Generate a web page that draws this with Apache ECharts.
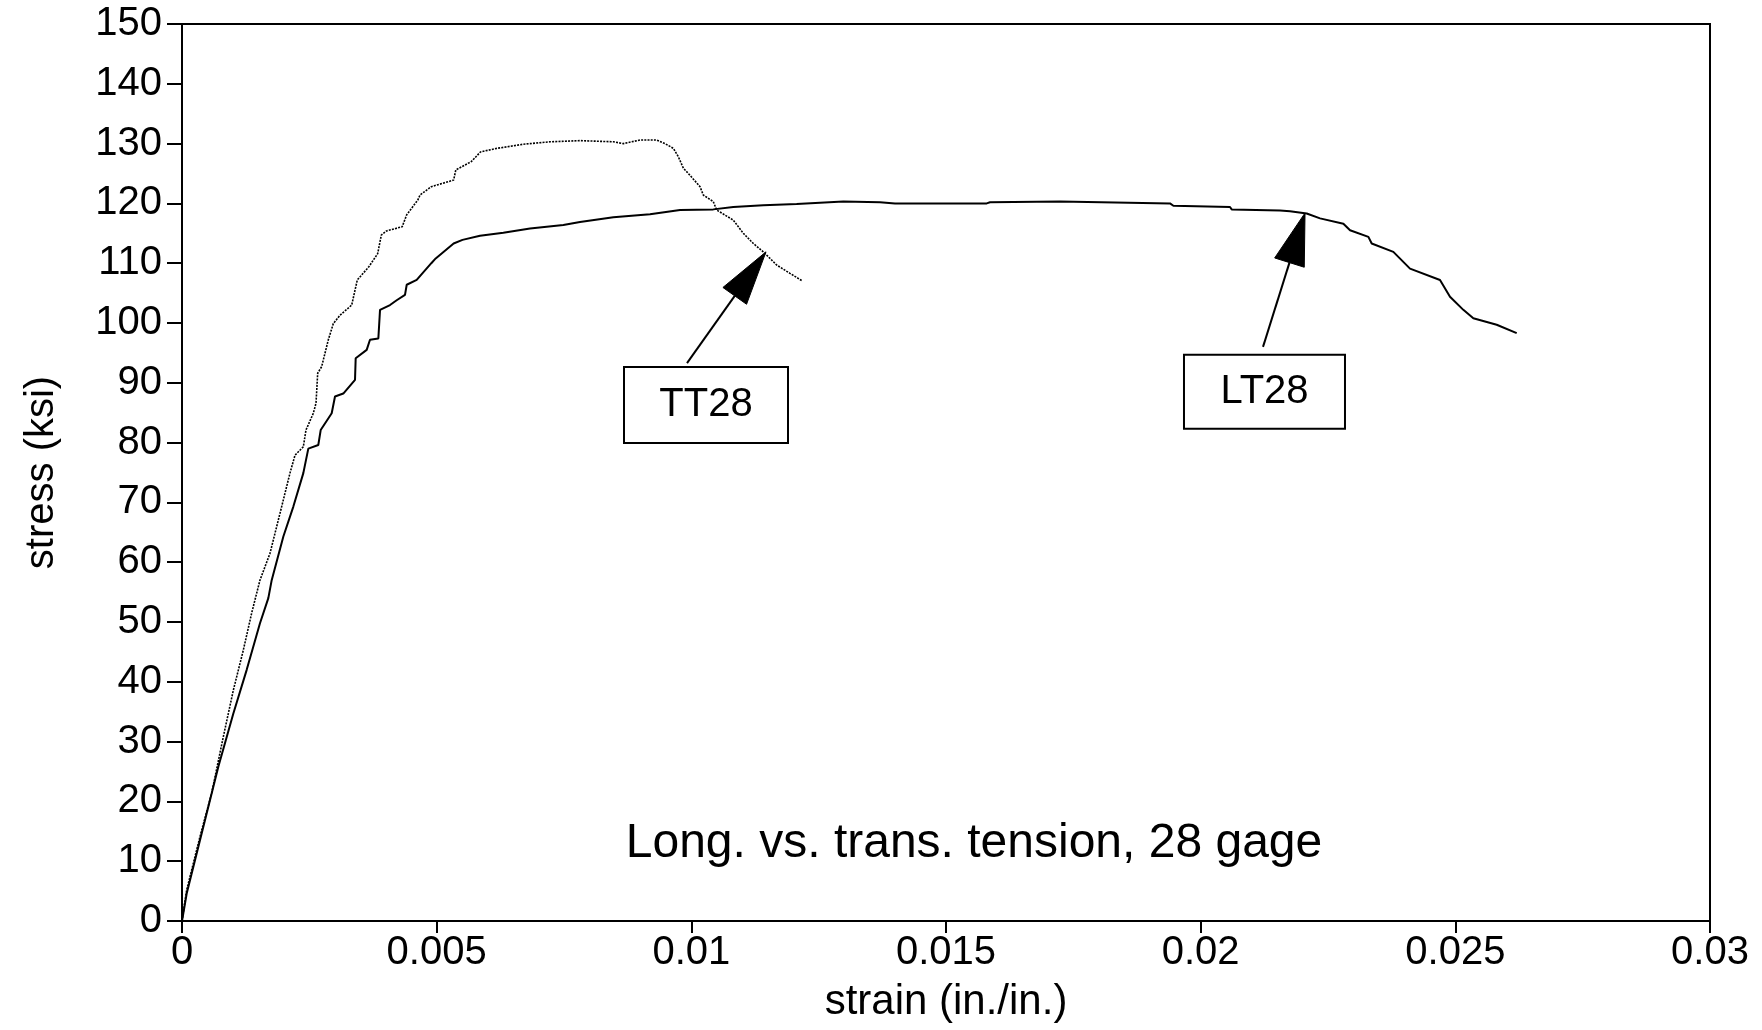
<!DOCTYPE html>
<html>
<head>
<meta charset="utf-8">
<script src="https://cdn.jsdelivr.net/npm/echarts@6/dist/echarts.min.js"></script>
<style>
html,body{margin:0;padding:0;background:#fff;}
#chart{width:1762px;height:1030px;}
</style>
</head>
<body>
<div id="chart"></div>
<script>
// ---- data ----
const ttStrain = [0,0.000092,0.000353,0.000583,0.000811,0.001008,0.001204,0.001368,0.001531,0.001728,0.001957,0.00212,0.002219,0.002382,0.002434,0.002578,0.002631,0.002664,0.002742,0.002873,0.002971,0.003102,0.003332,0.003397,0.003442,0.003668,0.003842,0.003913,0.004017,0.004323,0.004412,0.004632,0.004673,0.004895,0.005333,0.005376,0.005682,0.005859,0.006179,0.006702,0.007225,0.007814,0.008469,0.008665,0.008992,0.00932,0.009483,0.009647,0.009745,0.009843,0.009974,0.01017,0.010235,0.010431,0.010497,0.010824,0.011021,0.011217,0.011413,0.011675,0.011937,0.012167];
const ttStress = [0,5.2,14.1,21.4,30.8,38.6,45.3,51.5,57.0,61.5,69.3,74.9,77.9,79.3,82.1,84.9,86.6,91.6,92.7,97.2,99.9,101.3,103.0,105.5,107.2,109.4,111.6,114.7,115.4,116.1,118.1,120.6,121.4,122.8,123.9,125.6,127.0,128.6,129.2,129.9,130.3,130.5,130.3,130.0,130.6,130.6,130.0,129.2,127.8,125.9,124.7,122.8,121.4,120.3,118.9,117.2,115.0,113.3,111.9,109.7,108.3,107.1];

const ltStrain = [0,0.000092,0.000452,0.000713,0.001008,0.00127,0.001531,0.001695,0.001761,0.00199,0.002186,0.002382,0.00248,0.002676,0.002723,0.002939,0.003004,0.003167,0.003397,0.00341,0.003626,0.003691,0.003855,0.003888,0.004084,0.004215,0.004378,0.004412,0.004608,0.004895,0.004981,0.005333,0.005507,0.005851,0.006309,0.006833,0.007487,0.007814,0.008469,0.009189,0.009778,0.010431,0.010824,0.011413,0.012068,0.012984,0.013704,0.013999,0.0158,0.015864,0.017238,0.01727,0.019398,0.019464,0.020576,0.020609,0.021558,0.021754,0.022082,0.022344,0.022802,0.022933,0.023293,0.023358,0.023783,0.02411,0.024699,0.024895,0.025157,0.025353,0.025812,0.026205];
const ltStress = [0,4.6,16.9,25.8,34.7,42.0,49.8,54.0,57.0,64.3,69.3,74.9,79.0,79.6,82.1,84.9,87.7,88.2,90.5,94.1,95.5,97.2,97.4,102.2,103.0,103.8,104.7,106.4,107.2,110.0,110.8,113.3,113.9,114.6,115.1,115.8,116.4,116.9,117.7,118.2,118.9,119.0,119.4,119.7,119.9,120.3,120.2,120.0,120.0,120.2,120.3,120.0,120.0,119.6,119.4,119.0,118.8,118.7,118.3,117.5,116.6,115.5,114.4,113.3,111.9,109.1,107.2,104.4,102.2,100.8,99.7,98.3];

const seriesNames = ['TT28', 'LT28'];
const xTickLabels = ['0','0.005','0.01','0.015','0.02','0.025','0.03'];
const yTickStep = 10;
const xTickStep = 0.005;
const noteText = 'Long. vs. trans. tension, 28 gage';
// annotation anchors in data coordinates: [strain, stress]
const ttArrowTip = [0.011466, 111.9], ttArrowTail = [0.009915, 93.3], ttBoxCenter = [0.010288, 86.3];
const ltArrowTip = [0.022049, 118.4], ltArrowTail = [0.021224, 96.0], ltBoxCenter = [0.021253, 88.5];
const noteCenter = [0.01555, 12.9];

const FONT = '"Liberation Sans", Arial, Helvetica, sans-serif';
const zip = (a, b) => a.map((v, i) => [v, b[i]]);

const chart = echarts.init(document.getElementById('chart'), null, {renderer: 'canvas'});
const option = {
  backgroundColor: '#fff',
  animation: false,
  grid: {left: 182, right: 52, top: 24, bottom: 109, containLabel: false,
         show: true, borderColor: '#000', borderWidth: 2, backgroundColor: 'transparent'},
  xAxis: {
    type: 'value', min: 0, max: 0.03, interval: xTickStep,
    name: 'strain (in./in.)', nameLocation: 'middle', nameGap: 60,
    nameTextStyle: {fontFamily: FONT, fontSize: 42, color: '#000'},
    axisLine: {show: true, onZero: false, lineStyle: {color: '#000', width: 2}},
    axisTick: {show: true, inside: false, length: 12, lineStyle: {color: '#000', width: 2}},
    axisLabel: {margin: 12, fontFamily: FONT, fontSize: 40, color: '#000',
                formatter: (v) => { const i = Math.round(v / xTickStep); return xTickLabels[i] !== undefined ? xTickLabels[i] : String(v); }},
    splitLine: {show: false}
  },
  yAxis: {
    type: 'value', min: 0, max: 150, interval: yTickStep,
    name: 'stress (ksi)', nameLocation: 'middle', nameGap: 120,
    nameTextStyle: {fontFamily: FONT, fontSize: 40, color: '#000'},
    axisLine: {show: true, onZero: false, lineStyle: {color: '#000', width: 2}},
    axisTick: {show: true, inside: false, length: 15, lineStyle: {color: '#000', width: 2}},
    axisLabel: {margin: 20, fontFamily: FONT, fontSize: 40, color: '#000'},
    splitLine: {show: false}
  },
  series: [
    {name: seriesNames[0], type: 'line', data: zip(ttStrain, ttStress), showSymbol: false, symbol: 'none',
     lineStyle: {color: '#000', width: 1.6, type: [2, 1.2]}, z: 3},
    {name: seriesNames[1], type: 'line', data: zip(ltStrain, ltStress), showSymbol: false, symbol: 'none',
     lineStyle: {color: '#000', width: 2}, z: 3}
  ]
};
chart.setOption(option);

function px(p) { return chart.convertToPixel({xAxisIndex: 0, yAxisIndex: 0}, p); }
function arrow(tipD, tailD, headLen, headW) {
  const t = px(tipD), s = px(tailD);
  const dx = t[0] - s[0], dy = t[1] - s[1];
  const L = Math.hypot(dx, dy), ux = dx / L, uy = dy / L;
  const bx = t[0] - ux * headLen, by = t[1] - uy * headLen;
  const nx = -uy, ny = ux;
  return [
    {type: 'line', shape: {x1: s[0], y1: s[1], x2: bx, y2: by}, style: {stroke: '#000', lineWidth: 2}, z: 10},
    {type: 'polygon', shape: {points: [[t[0], t[1]], [bx + nx * headW / 2, by + ny * headW / 2], [bx - nx * headW / 2, by - ny * headW / 2]]},
     style: {fill: '#000', stroke: '#000', lineWidth: 1}, z: 10}
  ];
}
function box(centerD, w, h, text) {
  const c = px(centerD);
  return [
    {type: 'rect', shape: {x: c[0] - w / 2, y: c[1] - h / 2, width: w, height: h},
     style: {fill: '#fff', stroke: '#000', lineWidth: 2}, z: 11},
    {type: 'text', x: c[0], y: c[1], style: {text: text, fill: '#000', font: '40px ' + FONT, align: 'center', verticalAlign: 'middle'}, z: 12}
  ];
}
const nc = px(noteCenter);
const elements = [].concat(
  arrow(ttArrowTip, ttArrowTail, 54, 29),
  arrow(ltArrowTip, ltArrowTail, 52, 31),
  box(ttBoxCenter, 164, 76, seriesNames[0]),
  box(ltBoxCenter, 161, 74, seriesNames[1]),
  [{type: 'text', x: nc[0], y: nc[1], style: {text: noteText, fill: '#000', font: '48px ' + FONT, align: 'center', verticalAlign: 'middle'}, z: 12}]
);
chart.setOption({graphic: {elements: elements}});
</script>
</body>
</html>
